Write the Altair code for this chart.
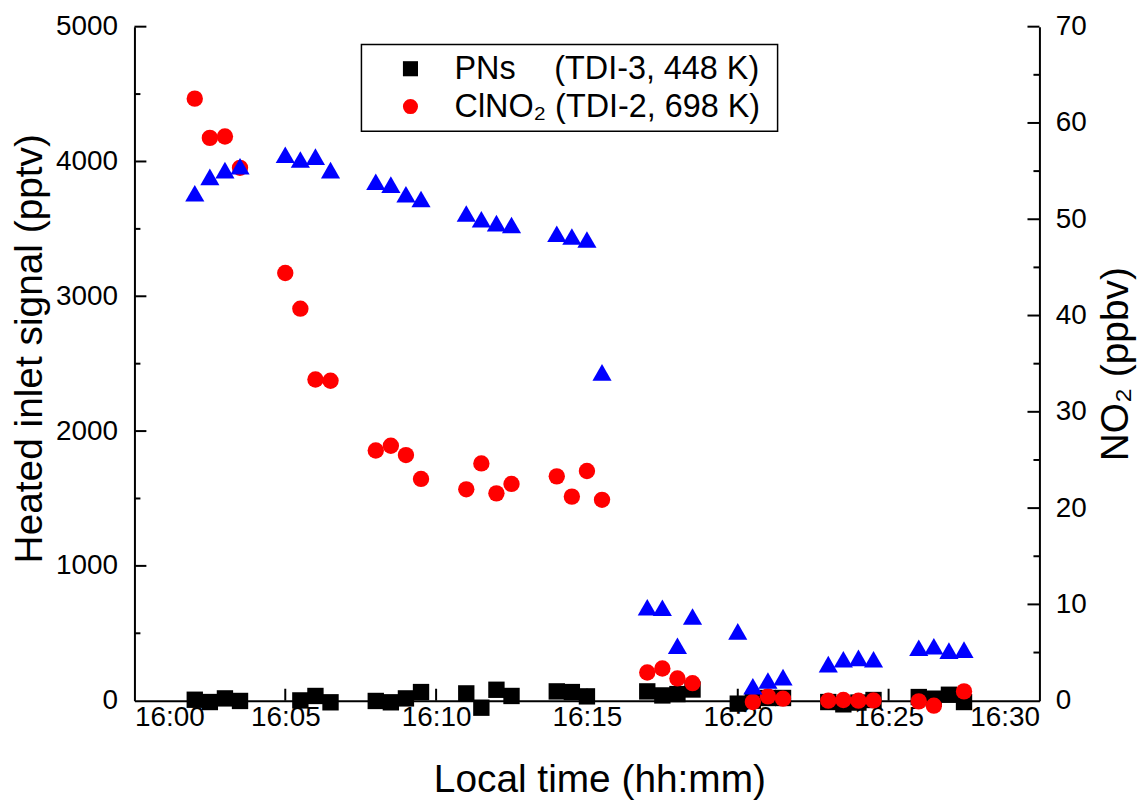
import altair as alt
import pandas as pd

# ---- data (minutes after 16:00) ----
cl_time = [2.0, 2.5, 3.0, 3.5, 5.0, 5.5, 6.0, 6.5, 8.0, 8.5, 9.0, 9.5, 11.0, 11.5, 12.0, 12.5,
           14.0, 14.5, 15.0, 15.5, 17.0, 17.5, 18.0, 18.5, 20.5, 21.0, 21.5, 23.0, 23.5, 24.0,
           24.5, 26.0, 26.5, 27.5]
cl_val = [4466, 4175, 4185, 3953, 3173, 2908, 2383, 2373, 1856, 1891, 1822, 1645, 1568, 1760,
          1538, 1608, 1664, 1514, 1704, 1490, 209, 239, 165, 130, -10, 32, 15, 0, 5, 0,
          2, -5, -37, 69]

pn_time = [2.0, 2.5, 3.0, 3.5, 5.5, 6.0, 6.5, 8.0, 8.5, 9.0, 9.5, 11.0, 11.5, 12.0, 12.5,
           14.0, 14.5, 15.0, 17.0, 17.5, 18.0, 18.5, 20.0, 20.5, 21.0, 21.5, 23.0, 23.5, 24.0,
           24.5, 26.0, 26.5, 27.0, 27.5]
pn_val = [7, -10, 17, -2, 2, 35, -12, -2, -12, 17, 64, 54, -52, 81, 35,
          69, 64, 32, 69, 39, 49, 83, -22, 0, 20, 20, -10, -27, -14,
          5, 27, 15, 44, -10]

no2_time = [2.0, 2.5, 3.0, 3.5, 5.0, 5.5, 6.0, 6.5, 8.0, 8.5, 9.0, 9.5, 11.0, 11.5, 12.0, 12.5,
            14.0, 14.5, 15.0, 15.5, 17.0, 17.5, 18.0, 18.5, 20.0, 20.5, 21.0, 21.5, 23.0, 23.5,
            24.0, 24.5, 26.0, 26.5, 27.0, 27.5]
no2_val = [52.7, 54.4, 55.1, 55.5, 56.7, 56.2, 56.5, 55.1, 53.9, 53.6, 52.6, 52.1, 50.6, 50.0,
           49.6, 49.4, 48.5, 48.2, 47.9, 34.1, 9.7, 9.65, 5.7, 8.75, 7.2, 1.5, 2.1, 2.45, 3.8,
           4.3, 4.45, 4.3, 5.5, 5.65, 5.2, 5.3]

NB = "\u00a0"
pn_label = "PNs" + NB * 4 + "\u200a" + "(TDI-3, 448 K)" + NB + "\u2060"
cl_label = "ClNO\u2082 (TDI-2, 698 K)" + NB + "\u2060"
series_labels = [pn_label, cl_label]
series_colors = ["black", "#ff0000"]
series_shapes = ["square", "circle"]

x_major = [5, 10, 15, 20, 25]
x_labels_at = [0, 5, 10, 15, 20, 25, 30]
left_major = [1000, 2000, 3000, 4000, 5000]
left_minor = [500, 1500, 2500, 3500, 4500]
left_labels_at = [0, 1000, 2000, 3000, 4000, 5000]
right_major = [10, 20, 30, 40, 50, 60, 70]
right_minor = [5, 15, 25, 35, 45, 55, 65]
right_labels_at = [0, 10, 20, 30, 40, 50, 60, 70]

FONT = "Liberation Sans, Arial, sans-serif"
W, H = 909, 677
MAJ, MIN = 12, 6

left_df = pd.concat([
    pd.DataFrame({"t": pn_time, "v": pn_val, "series": pn_label}),
    pd.DataFrame({"t": cl_time, "v": cl_val, "series": cl_label}),
], ignore_index=True)
left_df["order"] = range(len(left_df))
no2_df = pd.DataFrame({"t": no2_time, "v": no2_val})

x_scale = alt.Scale(domain=[0, 30], nice=False, zero=False)
ly_scale = alt.Scale(domain=[0, 5000], nice=False, zero=False)
ry_scale = alt.Scale(domain=[0, 70], nice=False, zero=False)

x_axis = alt.Axis(values=x_labels_at, title="Local time (hh:mm)",
                  labelExpr="'16:' + (datum.value < 10 ? '0' : '') + datum.value",
                  ticks=False, tickSize=0, labelPadding=3,
                  titlePadding=29, titleX=467, grid=False)
ly_axis = alt.Axis(values=left_labels_at, title="Heated inlet signal (pptv)", format="d",
                   ticks=False, tickSize=0, labelPadding=17, titlePadding=6,
                   titleY=323, grid=False, orient="left")
ry_axis = alt.Axis(values=right_labels_at, title="NO\u2082 (ppbv)", orient="right",
                   ticks=False, tickSize=0, labelPadding=16, titlePadding=10,
                   titleAngle=270, titleBaseline="top", grid=False)


def ticks_y(vals, scale, axis, x0, x1):
    return alt.Chart(pd.DataFrame({"v": vals})).mark_rule(color="black", strokeWidth=2).encode(
        y=alt.Y("v:Q", scale=scale, axis=axis),
        x=alt.value(x0), x2=alt.value(x1),
    )


x_ticks_layer = alt.Chart(pd.DataFrame({"t": x_major})).mark_rule(
    color="black", strokeWidth=2).encode(
    x=alt.X("t:Q", scale=x_scale, axis=x_axis),
    y=alt.value(H), y2=alt.value(H - MAJ),
)

left_points = alt.Chart(left_df).mark_point(filled=True, size=270, opacity=1,
                                            strokeWidth=0).encode(
    x=alt.X("t:Q", scale=x_scale, axis=x_axis),
    y=alt.Y("v:Q", scale=ly_scale, axis=ly_axis),
    color=alt.Color("series:N", scale=alt.Scale(domain=series_labels, range=series_colors),
                    legend=alt.Legend(title=None, orient="none", legendX=228, legendY=18)),
    shape=alt.Shape("series:N", scale=alt.Scale(domain=series_labels, range=series_shapes),
                    legend=alt.Legend(title=None, orient="none", legendX=228, legendY=18)),
    order=alt.Order("order:Q"),
)

left_group = alt.layer(
    x_ticks_layer,
    ticks_y(left_major, ly_scale, ly_axis, 0, MAJ),
    ticks_y(left_minor, ly_scale, ly_axis, 0, MIN),
    left_points,
)

right_points = alt.Chart(no2_df).mark_point(filled=True, shape="triangle-up", size=370,
                                            opacity=1, color="#0000ff",
                                            strokeWidth=0).encode(
    x=alt.X("t:Q", scale=x_scale, axis=x_axis),
    y=alt.Y("v:Q", scale=ry_scale, axis=ry_axis),
)

right_group = alt.layer(
    ticks_y(right_major, ry_scale, ry_axis, W, W - MAJ),
    ticks_y(right_minor, ry_scale, ry_axis, W, W - MIN),
    right_points,
)

chart = alt.layer(left_group, right_group).resolve_scale(y="independent").properties(
    width=W, height=H,
    autosize=alt.AutoSizeParams(type="none"),
    padding={"left": 127, "top": 17, "right": 98, "bottom": 98},
).configure_view(stroke=None).configure_axis(
    labelFont=FONT, titleFont=FONT, labelFontSize=28, titleFontSize=39,
    titleFontWeight="normal", labelColor="black", titleColor="black",
    domainColor="black", domainWidth=2,
).configure_legend(
    labelFont=FONT, labelFontSize=32.5, labelColor="black", strokeColor="black",
    strokeWidth=1.5, fillColor="white", padding=8, symbolOffset=25, labelOffset=28,
    symbolSize=230, rowPadding=5, labelLimit=1000,
)

chart.save("out.html", embed_options={"renderer": "svg", "actions": False})
